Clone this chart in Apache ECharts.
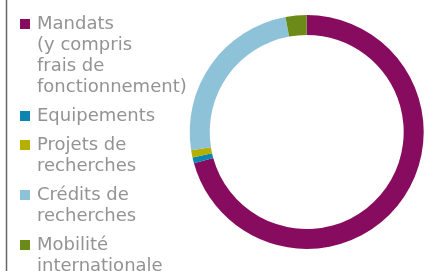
<!DOCTYPE html>
<html>
<head>
<meta charset="utf-8">
<script src="https://cdn.jsdelivr.net/npm/echarts@6/dist/echarts.min.js"></script>
<style>
  html, body { margin: 0; padding: 0; background: #fff; }
  #main { width: 426px; height: 271px; }
</style>
</head>
<body>
<div id="main"></div>
<script>
var categories = ["Mandats\n(y compris\nfrais de\nfonctionnement)", "Equipements", "Projets de\nrecherches", "Crédits de\nrecherches", "Mobilité\ninternationale"];
var values = [70.7, 0.8, 1.0, 24.6, 2.9];
var colors = ["#870c5f", "#0a86b0", "#b5b000", "#8ec2d8", "#6b8a17"];

var myChart = echarts.init(document.getElementById("main"));

// styles rich pour mettre le carré sur la premiere ligne
var rich = {
    t: { fontFamily: "DejaVu Sans", fontSize: 18, lineHeight: 21, color: "#939393" },
    g: { width: 7 },
    p: { width: 17 }
};
for (var i = 0; i < colors.length; i++) {
    rich["c" + i] = { width: 10, height: 10, backgroundColor: colors[i] };
}

var option = {
    animation: false,
    color: colors,
    legend: {
        orient: "vertical",
        left: 10,
        top: 10,
        itemWidth: 0,
        itemHeight: 10,
        itemGap: 11,
        selectedMode: false,
        data: categories,
        formatter: function (name) {
            var idx = categories.indexOf(name);
            var lines = name.split("\n");
            var out = [];
            for (var j = 0; j < lines.length; j++) {
                if (j === 0) {
                    out.push("{c" + idx + "|}{g|}{t|" + lines[j] + "}");
                } else {
                    out.push("{p|}{t|" + lines[j] + "}");
                }
            }
            return out.join("\n");
        },
        textStyle: { rich: rich }
    },
    graphic: [{
        type: "line",
        shape: { x1: 6.5, y1: 0, x2: 6.5, y2: 271 },
        style: { stroke: "#666", lineWidth: 1.5 }
    }],
    series: [{
        type: "pie",
        center: [306.7, 132],
        radius: [97, 117],
        startAngle: 90,
        clockwise: true,
        label: { show: false },
        labelLine: { show: false },
        emphasis: { disabled: true },
        data: categories.map(function (c, k) {
            return { name: c, value: values[k] };
        })
    }]
};
myChart.setOption(option);
</script>
</body>
</html>
